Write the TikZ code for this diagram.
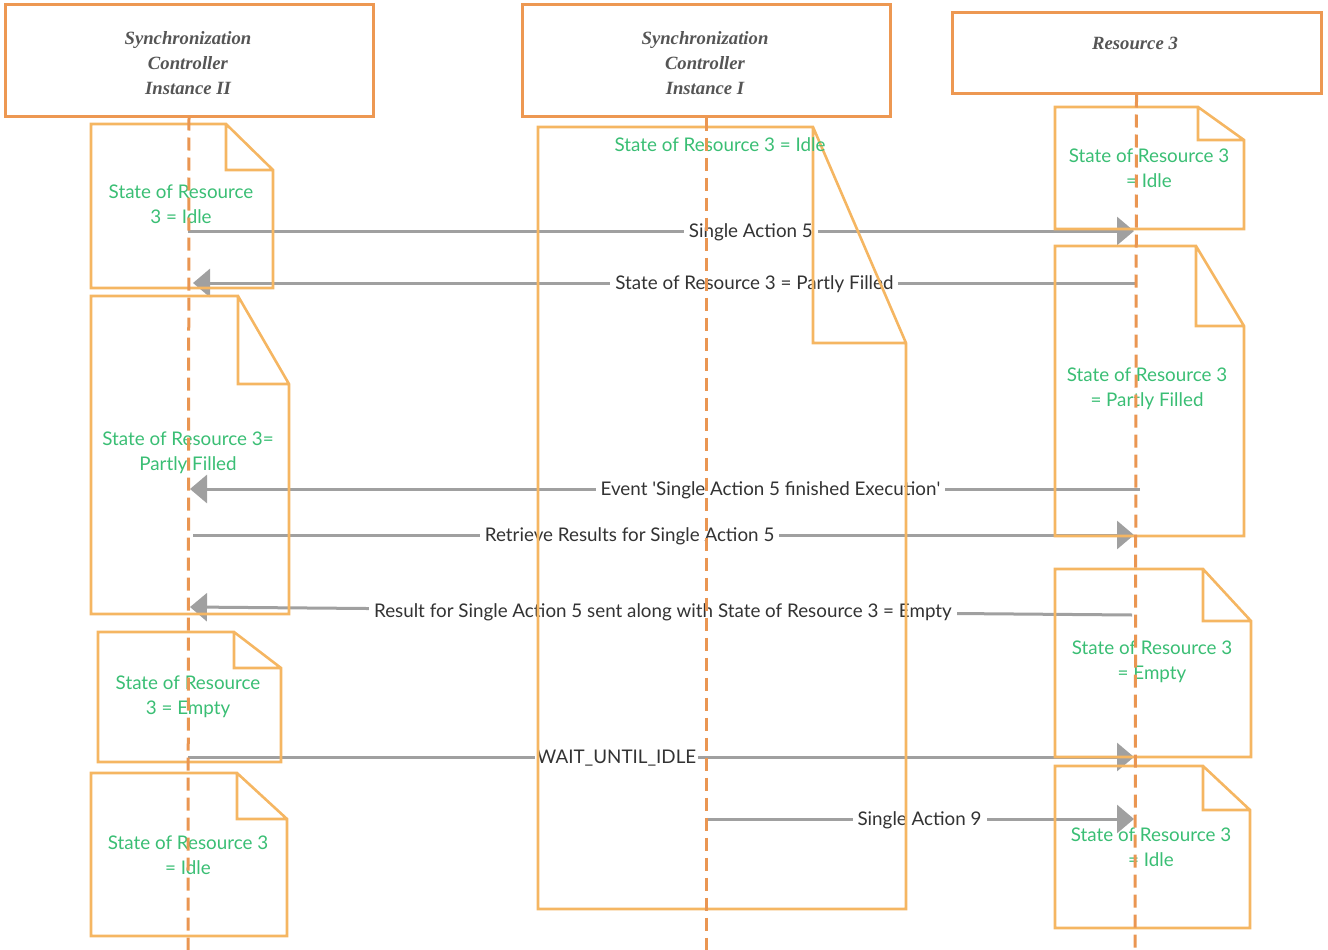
\documentclass[tikz,border=0pt]{standalone}
\usepackage{fontspec}
\setmainfont{Lato}
\newfontfamily\headfont{Liberation Serif}
\usetikzlibrary{arrows.meta}

\definecolor{headline}{RGB}{237,152,82}
\definecolor{noteline}{RGB}{245,182,98}
\definecolor{lifecol}{RGB}{234,150,82}
\definecolor{stategreen}{RGB}{58,190,116}
\definecolor{msggray}{RGB}{160,160,160}
\definecolor{msgtext}{RGB}{51,51,51}
\definecolor{headtext}{RGB}{85,85,85}

\tikzset{
  headbox/.style={draw=headline, line width=3pt, inner sep=0pt},
  headtitle/.style={font=\headfont\bfseries\itshape\fontsize{18.7}{25}\selectfont,
    text=headtext, inner sep=0pt, align=center},
  notestroke/.style={draw=noteline, line width=2.6pt, line join=miter},
  statetext/.style={font=\fontsize{18.8}{25}\selectfont, text=stategreen,
    align=center, inner sep=0pt},
  msg/.style={draw=msggray, line width=3pt,
    -{Triangle[length=17pt,width=28pt]}},
  lbl/.style={fill=white, text=msgtext, font=\fontsize{18.8}{22}\selectfont,
    inner sep=5pt, yshift=-1.5pt},
  life/.style={draw=lifecol, line width=3pt, dash pattern=on 13pt off 7pt},
}

% folded-corner note: name, x1, y1, x2, y2, fold x, fold y
\newcommand\docnote[7]{%
  \draw[notestroke] (#2,#3) -- (#6,#3) -- (#4,#7) -- (#4,#5) -- (#2,#5) -- cycle
    (#6,#3) -- (#6,#7) -- (#4,#7);
  \coordinate (#1) at ({(#2+#4)/2},{(#3+#5)/2});
}

\begin{document}
\begin{tikzpicture}[x=1pt,y=-1pt]
\useasboundingbox (0,0) rectangle (1328,950);

% participants
\node[headbox, minimum width=368pt, minimum height=111pt] (ctl2) at (189,60.5) {};
\node[headbox, minimum width=368pt, minimum height=111pt] (ctl1) at (706,60.5) {};
\node[headbox, minimum width=369pt, minimum height=80pt] (res3) at (1136.5,53) {};
\node[headtitle] (ctl2t) at (188,63) {Synchronization\\Controller\\Instance II};
\node[headtitle] (ctl1t) at (705,63) {Synchronization\\Controller\\Instance I};
\node[headtitle] (res3t) at (1135,43) {Resource 3};

% lifeline ends
\coordinate (ctl2end) at (188,950);
\coordinate (ctl1end) at (706,950);
\coordinate (res3end) at (1135,950);

% message end points
\coordinate (m1a) at (188,231);  \coordinate (m1b) at (1134,231);
\coordinate (m2a) at (1135,283); \coordinate (m2b) at (193,283);
\coordinate (m3a) at (1140,489); \coordinate (m3b) at (190,489);
\coordinate (m4a) at (193,535);  \coordinate (m4b) at (1134,535);
\coordinate (m5a) at (1132,615); \coordinate (m5b) at (190,607);
\coordinate (m6a) at (188,757);  \coordinate (m6b) at (1134,757);
\coordinate (m7a) at (706,819);  \coordinate (m7b) at (1134,819);

% messages
\draw[msg] (m1a) -- node[lbl,pos=0.595] (l1) {Single Action 5} (m1b);
\draw[msg] (m2a) -- node[lbl,pos=0.404] (l2) {State of Resource 3 = Partly Filled} (m2b);
\draw[msg] (m3a) -- node[lbl,pos=0.389] (l3)
  {Event \textquotesingle Single Action 5 finished Execution\textquotesingle} (m3b);
\draw[msg] (m4a) -- node[lbl,pos=0.464] (l4) {Retrieve Results for Single Action 5} (m4b);
\draw[msg] (m5a) -- node[lbl,pos=0.498] (l5)
  {Result for Single Action 5 sent along with State of Resource 3 = Empty} (m5b);
\draw[msg] (m6a) -- node[lbl,pos=0.453,inner sep=2pt] (l6) {WAIT\_UNTIL\_IDLE} (m6b);
\draw[msg] (m7a) -- node[lbl,pos=0.499] (l7) {Single Action 9} (m7b);

% state notes
\docnote{n1}{91}{124}{273}{288}{226}{170}
\docnote{n2}{91}{296}{289}{614}{238}{384}
\docnote{n3}{98}{632}{281}{762}{234}{668}
\docnote{n4}{91}{773}{287}{936}{237}{819}
\docnote{n5}{538}{127}{906}{909}{813}{343}
\docnote{n6}{1055}{107}{1244}{229}{1198}{140}
\docnote{n7}{1055}{246}{1244}{536}{1196}{326}
\docnote{n8}{1055}{569}{1251}{757}{1203}{621}
\docnote{n9}{1055}{766}{1250}{928}{1203}{810}

\node[statetext] (s1) at (181,204) {State of Resource\\3 = Idle};
\node[statetext] (s2) at (188,453) {State of Resource 3=\\Partly Filled};
\node[statetext] (s3) at (188,697) {State of Resource\\3 = Empty};
\node[statetext] (s4) at (188,855) {State of Resource 3\\= Idle};
\node[statetext] (s5) at (720,144.5) {State of Resource 3 = Idle};
\node[statetext] (s6) at (1149,168) {State of Resource 3\\= Idle};
\node[statetext] (s7) at (1147,389) {State of Resource 3\\= Partly Filled};
\node[statetext] (s8) at (1152,662) {State of Resource 3\\= Empty};
\node[statetext] (s9) at (1151,847) {State of Resource 3\\= Idle};

% lifelines
\draw[life] (ctl2.south) -- (ctl2end);
\draw[life] (ctl1.south) -- (ctl1end);
\draw[life] (res3.south) -- (res3end);
\end{tikzpicture}
\end{document}
